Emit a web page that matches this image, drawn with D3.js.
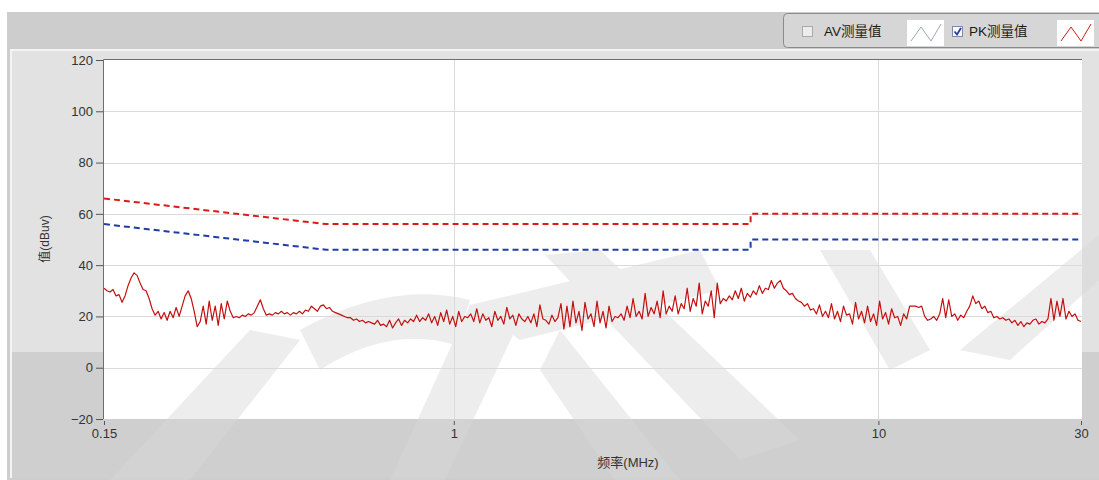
<!DOCTYPE html>
<html>
<head>
<meta charset="utf-8">
<script src="https://cdn.jsdelivr.net/npm/d3@7"></script>
<style>
  body { margin: 0; background: #fff; }
  svg text { font-family: "Liberation Sans", "Noto Sans CJK SC", Arial, sans-serif; }
</style>
</head>
<body>
<div id="chart"></div>
<script>
// ---- data ----
const freqStart = 0.15, freqStop = 30;          // MHz, log sweep
const xTicks = [0.15, 1, 10, 30];
const yTicks = [-20, 0, 20, 40, 60, 80, 100, 120];
const xGrid = [1, 10];

// limit lines (MHz, dBuV)
const pkLimitFreq = [0.15, 0.5, 5, 5, 30];
const pkLimitVal  = [66, 56, 56, 60, 60];
const avLimitFreq = [0.15, 0.5, 5, 5, 30];
const avLimitVal  = [56, 46, 46, 50, 50];

// PK measured trace, log-spaced sweep 0.15 .. 30 MHz
const pkTrace = [
  31, 30, 29.5, 30.5, 28, 28.5, 25.5, 28, 32, 35,
  37, 36, 33, 30.5, 30, 27, 23, 20.5, 22, 19,
  21.5, 18.5, 22, 19.5, 23.5, 20, 24, 28, 30, 27,
  22, 16, 18, 24, 17, 26, 18.5, 24, 16.5, 25,
  19, 26, 22, 19.5, 20, 19.5, 20.5, 20, 21, 20.5,
  21.5, 24, 26.5, 23, 20.5, 21, 20.5, 21.5, 21, 22,
  21, 21.5, 20.5, 21.5, 21, 22, 21, 22.5, 22, 24,
  23, 22, 24, 24.5, 23, 23.5, 22, 21.5, 21, 20.5,
  20, 19.5, 19.5, 18.5, 19, 18, 18.5, 17.5, 18, 17.5,
  17, 18.5, 16.5, 17, 16, 18.5, 15.5, 17.5, 19, 16.5,
  18.5, 17.5, 19, 18, 20.5, 18, 19.5, 18.5, 21, 17.5,
  20, 16.5, 21.5, 18, 22.5, 17, 20, 16, 22, 18,
  20, 19.5, 21, 18, 23, 17.5, 21, 18.5, 19.5, 16,
  22, 18.5, 20, 17, 23.5, 19, 20.5, 16.5, 21, 19,
  18, 20, 17.5, 21, 16, 24.5, 19, 18.5, 17, 20.5,
  18, 19.5, 25, 15, 24, 16, 26, 17.5, 22, 14.5,
  25.5, 19, 21, 16, 26, 17.5, 22, 15.5, 24, 18,
  20, 19.5, 21, 18.5, 24, 19.5, 27, 20, 22, 19,
  29, 20, 23.5, 21, 26, 19.5, 30, 21, 24, 22,
  28, 21, 25, 23, 31, 22, 27, 24, 33, 21,
  26, 24, 30, 19.5, 33, 25, 27, 26, 28, 26.5,
  30, 27, 31, 26, 29, 27.5, 30, 28.5, 32, 29,
  31, 30.5, 34, 31, 33, 34, 31, 30, 28.5, 29,
  27, 26, 25.5, 24, 25, 22.5, 23, 21, 24.5, 20,
  22, 19.5, 25, 19, 22, 18, 24, 20.5, 21, 17,
  25.5, 19, 22, 17.5, 24, 18, 21, 16.5, 26, 19,
  21.5, 17, 23, 19.5, 20, 16.5, 21, 19, 24, 24,
  24, 23.5, 24, 20, 18.5, 19, 20, 18.5, 21, 27,
  19.5, 26.5, 20, 21, 18.5, 20.5, 19.5, 22, 24, 28,
  25, 26, 23, 24, 21.5, 22, 19.5, 20, 19, 19.5,
  18.5, 19, 17.5, 18.5, 16.5, 18, 16, 17.5, 17, 18.5,
  19, 17, 18, 17.5, 19, 27, 18.5, 26, 20, 27,
  19, 22, 20, 21, 18.5, 18
];

// ---- layout ----
const W = 1099, H = 480;
const plot = { left: 103, right: 1082, top: 59, bottom: 419 };

const svg = d3.select("#chart").append("svg")
  .attr("width", W).attr("height", H);

// panel backgrounds
svg.append("rect").attr("x", 7).attr("y", 12).attr("width", W - 7).attr("height", H - 12).attr("fill", "#cdcdcd");
svg.append("rect").attr("x", 11).attr("y", 50).attr("width", W - 11).attr("height", 302).attr("fill", "#e2e2e2");
svg.append("rect").attr("x", 11).attr("y", 352).attr("width", W - 11).attr("height", 126).attr("fill", "#cfcfcf");
svg.append("path").attr("d", "M11,478 L11,50 L1099,50").attr("fill", "none").attr("stroke", "#f4f4f4").attr("stroke-width", 2);

// scales
const x = d3.scaleLog().domain([freqStart, freqStop]).range([104, 1081]);
const y = d3.scaleLinear().domain([-20, 120]).range([419, 60]);

// plot area
svg.append("rect")
  .attr("x", plot.left).attr("y", plot.top)
  .attr("width", plot.right - plot.left).attr("height", plot.bottom - plot.top)
  .attr("fill", "#fff");

// faint watermark strokes (under the chart marks)
const wm = svg.append("g").attr("fill", "#d8d8d8").attr("opacity", 0.45).attr("pointer-events", "none");
[
  "M110,480 L190,480 L300,340 L250,330 Z",
  "M300,330 Q390,280 470,300 L455,345 Q390,325 320,370 Z",
  "M390,480 L445,480 L520,320 L470,305 Z",
  "M470,305 L700,250 L720,290 L520,340 Z",
  "M545,255 L600,250 L800,440 L740,460 Z",
  "M615,480 L680,480 L560,330 L540,370 Z",
  "M820,250 L870,250 L930,350 L890,370 Z",
  "M960,350 L1010,360 L1099,280 L1099,235 Z"
].forEach(d => wm.append("path").attr("d", d));

// grid
svg.append("g").selectAll("line").data(yTicks.filter(d => d > -20 && d < 120)).join("line")
  .attr("x1", plot.left).attr("x2", plot.right)
  .attr("y1", d => Math.round(y(d)) + 0.5).attr("y2", d => Math.round(y(d)) + 0.5)
  .attr("stroke", "#dadada");
svg.append("g").selectAll("line").data(xGrid).join("line")
  .attr("x1", d => Math.round(x(d)) + 0.5).attr("x2", d => Math.round(x(d)) + 0.5)
  .attr("y1", plot.top).attr("y2", plot.bottom)
  .attr("stroke", "#dadada");

// frame top + left
svg.append("path")
  .attr("d", `M${plot.left + 0.5},${plot.bottom} L${plot.left + 0.5},${plot.top + 0.5} L${plot.right},${plot.top + 0.5}`)
  .attr("fill", "none").attr("stroke", "#6e6e6e");

// Y axis
const yAxis = svg.append("g")
  .attr("transform", `translate(${plot.left},0)`)
  .call(d3.axisLeft(y).tickValues(yTicks).tickSize(7).tickPadding(3));
yAxis.select(".domain").remove();
yAxis.selectAll("line").attr("stroke", "#555");
yAxis.selectAll("text").attr("font-size", 13).attr("fill", "#333")
  .style("font-family", "'Liberation Sans', Arial, sans-serif");

// X axis
const xAxis = svg.append("g")
  .attr("transform", `translate(0,${plot.bottom})`)
  .call(d3.axisBottom(x).tickValues(xTicks).tickFormat(d => String(d)).tickSize(6).tickPadding(4));
xAxis.select(".domain").remove();
xAxis.selectAll("line").attr("stroke", "#555").attr("y1", 2);
xAxis.selectAll("text").attr("font-size", 13).attr("fill", "#333")
  .style("font-family", "'Liberation Sans', Arial, sans-serif");

// axis titles
svg.append("text")
  .attr("transform", "translate(49,239) rotate(-90)")
  .attr("text-anchor", "middle")
  .attr("font-size", 12).attr("fill", "#333")
  .text("值(dBuv)");
svg.append("text")
  .attr("x", 628).attr("y", 467)
  .attr("text-anchor", "middle")
  .attr("font-size", 13).attr("fill", "#333")
  .text("频率(MHz)");

// clip
svg.append("clipPath").attr("id", "plotClip").append("rect")
  .attr("x", plot.left + 1).attr("y", plot.top + 1)
  .attr("width", plot.right - plot.left - 1).attr("height", plot.bottom - plot.top - 1);
const marks = svg.append("g").attr("clip-path", "url(#plotClip)");

// limit lines
const limitLine = d3.line().x(d => x(d[0])).y(d => y(d[1]));
const pkLimit = pkLimitFreq.map((f, i) => [f, pkLimitVal[i]]);
const avLimit = avLimitFreq.map((f, i) => [f, avLimitVal[i]]);

marks.append("path").datum(avLimit)
  .attr("d", limitLine)
  .attr("fill", "none").attr("stroke", "#1f3ca8").attr("stroke-width", 2)
  .attr("stroke-dasharray", "6,4");
marks.append("path").datum(pkLimit)
  .attr("d", limitLine)
  .attr("fill", "none").attr("stroke", "#dd1a1a").attr("stroke-width", 2)
  .attr("stroke-dasharray", "6,4");

// measured trace
const lf0 = Math.log10(freqStart), lf1 = Math.log10(freqStop);
const traceData = pkTrace.map((v, i) => [Math.pow(10, lf0 + (lf1 - lf0) * i / (pkTrace.length - 1)), v]);
marks.append("path").datum(traceData)
  .attr("d", d3.line().x(d => x(d[0])).y(d => y(d[1])))
  .attr("fill", "none").attr("stroke", "#c40f0f").attr("stroke-width", 1.2)
  .attr("stroke-linejoin", "round");

// legend
const lg = svg.append("g");
lg.append("rect").attr("x", 783.5).attr("y", 13.5).attr("width", 330).attr("height", 34).attr("rx", 4)
  .attr("fill", "#d6d6d6").attr("stroke", "#8a8a8a");
// AV
lg.append("rect").attr("x", 802.5).attr("y", 26.5).attr("width", 10).attr("height", 10)
  .attr("fill", "#ececec").attr("stroke", "#aaaaaa");
lg.append("text").attr("x", 824).attr("y", 36).attr("font-size", 13.5).attr("fill", "#1a1a1a").text("AV测量值");
lg.append("rect").attr("x", 907).attr("y", 20).attr("width", 37).attr("height", 26).attr("fill", "#fff");
lg.append("polyline").attr("points", "911,41 921,27 931,41 941,24")
  .attr("fill", "none").attr("stroke", "#9aa8b8").attr("stroke-width", 1);
// PK
lg.append("rect").attr("x", 952.5).attr("y", 26.5).attr("width", 10).attr("height", 10)
  .attr("fill", "#fafafa").attr("stroke", "#7d8aa5");
lg.append("path").attr("d", "M954.5,31.5 L957,34.5 L961,28")
  .attr("fill", "none").attr("stroke", "#2b3a9e").attr("stroke-width", 1.8);
lg.append("text").attr("x", 969).attr("y", 36).attr("font-size", 13.5).attr("fill", "#1a1a1a").text("PK测量值");
lg.append("rect").attr("x", 1057).attr("y", 20).attr("width", 37).attr("height", 26).attr("fill", "#fff");
lg.append("polyline").attr("points", "1061,41 1071,27 1081,41 1091,24")
  .attr("fill", "none").attr("stroke", "#c81e1e").attr("stroke-width", 1);
</script>
</body>
</html>
